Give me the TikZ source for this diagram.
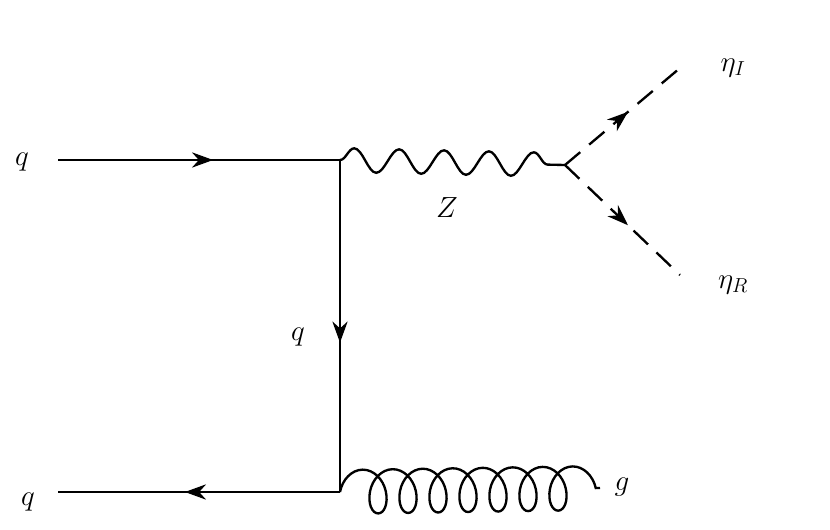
\documentclass[tikz,border=0pt]{standalone}
\usetikzlibrary{decorations.pathmorphing,decorations.markings,arrows.meta}
\begin{document}
\begin{tikzpicture}[x=0.03cm,y=-0.03cm,
  fermion/.style={line width=2pt,postaction={decorate},decoration={markings,mark=at position #1 with {\arrow{Stealth[length=18pt,width=13pt]}}}},
  scalar/.style={line width=2pt,dash pattern=on 17pt off 10pt,postaction={decorate},decoration={markings,mark=at position 0.55 with {\arrow{Stealth[length=18pt,width=13pt]}}}},
  boson/.style={line width=2pt,decorate,decoration={snake,segment length=44.9*0.03cm,amplitude=12*0.03cm,post length=0pt,pre length=0pt}},
  gluon/.style={line width=2pt,decorate,decoration={coil,aspect=0.7,segment length=30*0.03cm,amplitude=22*0.03cm,pre length=0pt,post length=0pt}},
  lbl/.style={font=\fontsize{26}{30}\selectfont}]
\useasboundingbox (0,0) rectangle (830,530);
\coordinate (a) at (58,160);
\coordinate (v1) at (340,160);
\coordinate (v2) at (340,492);
\coordinate (b) at (58,492);
\coordinate (v3) at (565,165);
\coordinate (e1) at (680,68);
\coordinate (e2) at (680,275);
\coordinate (g) at (600,488);
\draw[fermion=0.55] (a) -- (v1);
\draw[fermion=0.55] (v1) -- (v2);
\draw[fermion=0.55] (v2) -- (b);
\draw[boson] (v1) -- (v3);
\draw[scalar] (v3) -- (e1);
\draw[scalar] (v3) -- (e2);
\draw[gluon] (v2) -- (g);
\node[lbl] (lq1) at (22,162) {$q$};
\node[lbl] (lq2) at (28,502) {$q$};
\node[lbl] (lq3) at (298,337) {$q$};
\node[lbl] (lz) at (447,208) {$Z$};
\node[lbl] (li) at (733,68) {$\eta_I$};
\node[lbl] (lr) at (733,285) {$\eta_R$};
\node[lbl] (lg) at (622,487) {$g$};
\end{tikzpicture}
\end{document}
